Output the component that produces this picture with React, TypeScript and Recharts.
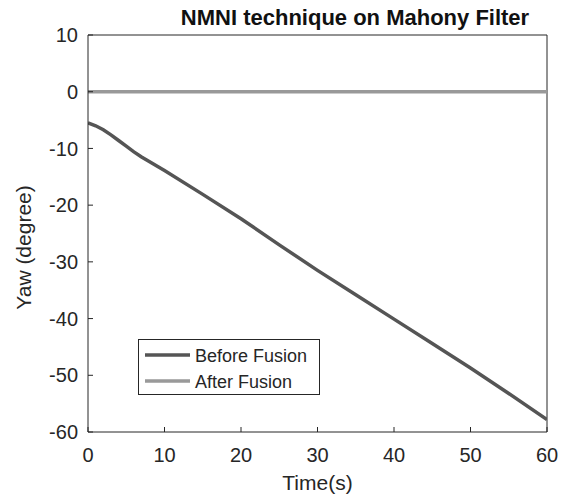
import React from 'react';
import {
  LineChart,
  Line,
  XAxis,
  YAxis,
  ReferenceLine,
  Legend,
} from 'recharts';

// Time samples (s)
const times = [0, 1, 2, 3, 4, 5, 6, 7, 8, 9, 10, 15, 20, 25, 30, 35, 40, 45, 50, 55, 60];
// Yaw before fusion (degree)
const beforeFusion = [
  -5.5, -6.0, -6.7, -7.6, -8.6, -9.6, -10.6, -11.5, -12.3, -13.1, -13.9,
  -18.1, -22.4, -27.0, -31.5, -35.8, -40.1, -44.4, -48.7, -53.2, -57.8,
];
// Yaw after fusion (degree)
const afterFusion = [0, 0, 0, 0, 0, 0, 0, 0, 0, 0, 0, 0, 0, 0, 0, 0, 0, 0, 0, 0, 0];

const xTicks = [0, 10, 20, 30, 40, 50, 60];
const yTicks = [-60, -50, -40, -30, -20, -10, 0, 10];

const seriesNames = ['Before Fusion', 'After Fusion'];
const titleText = 'NMNI technique on Mahony Filter';
const xLabel = 'Time(s)';
const yLabel = 'Yaw (degree)';

const rows = times.map((t, i) => ({
  t,
  before: beforeFusion[i],
  after: afterFusion[i],
}));

const FONT = 'Liberation Sans, Arial, Helvetica, sans-serif';
const AXIS = '#262626';
const TEXT = '#262626';

const LegendBox = (props: any) => {
  const payload = [...(props.payload || [])].sort(
    (a: any, b: any) => seriesNames.indexOf(a.value) - seriesNames.indexOf(b.value)
  );
  return (
    <svg width={182} height={56} style={{ display: 'block' }}>
      <rect x={0.5} y={0.5} width={181} height={55} fill="#fff" stroke={AXIS} strokeWidth={1} />
      {payload.map((p: any, i: number) => (
        <g key={p.value}>
          <line
            x1={7}
            x2={52}
            y1={16 + i * 26}
            y2={16 + i * 26}
            stroke={p.color}
            strokeWidth={3.5}
          />
          <text
            x={57}
            y={23 + i * 26}
            fontFamily={FONT}
            fontSize={18}
            fill={TEXT}
          >
            {p.value}
          </text>
        </g>
      ))}
    </svg>
  );
};

export default function App() {
  return (
    <div style={{ position: 'absolute', left: 0, top: 0, background: '#fff' }}>
      <LineChart
        width={567}
        height={504}
        data={rows}
        margin={{ top: 35, right: 20, left: 0, bottom: 0 }}
        style={{ fontFamily: FONT }}
      >
        <text
          x={355}
          y={25}
          textAnchor="middle"
          fontFamily={FONT}
          fontWeight="bold"
          fontSize={22}
          fill="#111"
        >
          {titleText}
        </text>
        <XAxis
          dataKey="t"
          type="number"
          domain={[0, 60]}
          ticks={xTicks}
          allowDataOverflow
          height={72}
          stroke={AXIS}
          tickSize={-5}
          tickMargin={21}
          tick={{ fill: TEXT, fontSize: 20, fontFamily: FONT }}
          label={{
            value: xLabel,
            position: 'insideBottom',
            offset: 14,
            fill: TEXT,
            fontSize: 21,
            fontFamily: FONT,
          }}
        />
        <XAxis
          xAxisId="top"
          orientation="top"
          type="number"
          domain={[0, 60]}
          ticks={xTicks}
          allowDataOverflow
          height={0}
          stroke={AXIS}
          tickSize={-5}
          tickFormatter={() => ''}
        />
        <YAxis
          type="number"
          domain={[-60, 10]}
          ticks={yTicks}
          allowDataOverflow
          width={88}
          stroke={AXIS}
          tickSize={-5}
          tickMargin={15}
          tick={{ fill: TEXT, fontSize: 20, fontFamily: FONT }}
          label={{
            value: yLabel,
            angle: -90,
            position: 'insideLeft',
            offset: 24,
            dy: 14,
            style: { textAnchor: 'middle' },
            fill: TEXT,
            fontSize: 21,
            fontFamily: FONT,
          }}
        />
        <YAxis
          yAxisId="right"
          orientation="right"
          type="number"
          domain={[-60, 10]}
          ticks={yTicks}
          allowDataOverflow
          width={0}
          stroke={AXIS}
          tickSize={-5}
          tickFormatter={() => ''}
        />
        <ReferenceLine y={10} stroke={AXIS} strokeWidth={1} ifOverflow="visible" />
        <ReferenceLine x={60} stroke={AXIS} strokeWidth={1} ifOverflow="visible" />
        <Line
          type="linear"
          dataKey="before"
          name={seriesNames[0]}
          stroke="#555555"
          strokeWidth={3.5}
          dot={false}
          isAnimationActive={false}
        />
        <Line
          type="linear"
          dataKey="after"
          name={seriesNames[1]}
          stroke="#999999"
          strokeWidth={3.5}
          dot={false}
          isAnimationActive={false}
        />
        <Legend
          layout="horizontal"
          verticalAlign="middle"
          align="center"
          content={<LegendBox />}
          wrapperStyle={{ position: 'absolute', left: 138, top: 339, width: 182, height: 56 }}
        />
      </LineChart>
    </div>
  );
}
